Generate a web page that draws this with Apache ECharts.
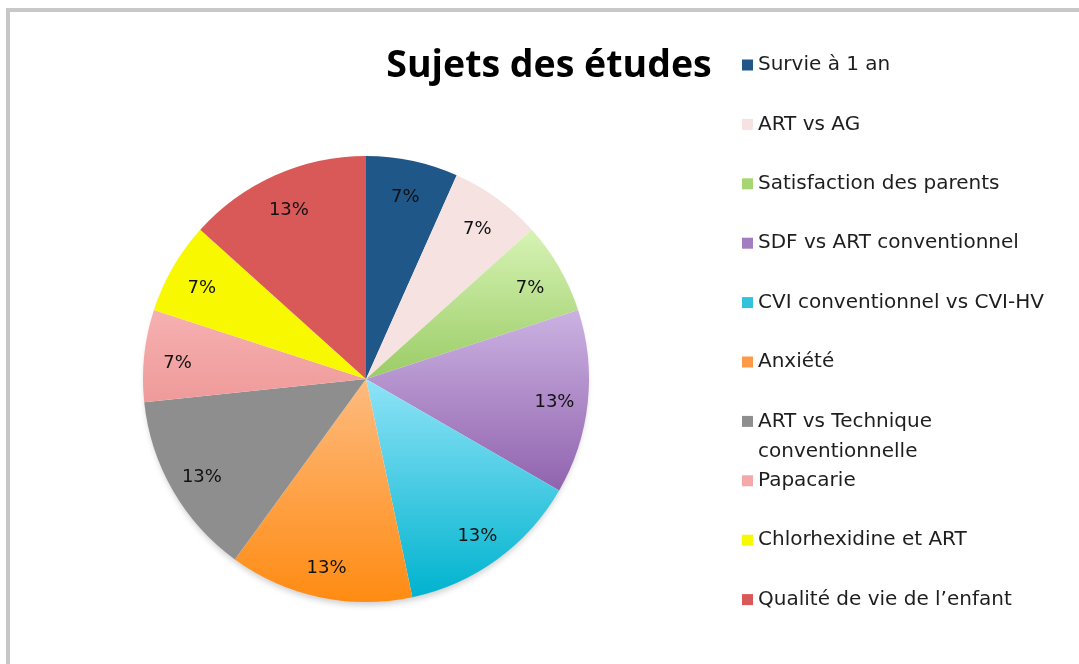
<!DOCTYPE html>
<html>
<head>
<meta charset="utf-8">
<script src="https://cdn.jsdelivr.net/npm/echarts@6/dist/echarts.min.js"></script>
<style>
  html, body { margin: 0; padding: 0; background: #fff; }
  #chart { width: 1079px; height: 664px; }
</style>
</head>
<body>
<div id="chart"></div>
<script>
// slice names, in the order they are drawn (clockwise from 12 o'clock)
var subjects = [
    'Survie à 1 an',
    'ART vs AG',
    'Satisfaction des parents',
    'SDF vs ART conventionnel',
    'CVI conventionnel vs CVI-HV',
    'Anxiété',
    'ART vs Technique\nconventionnelle',
    'Papacarie',
    'Chlorhexidine et ART',
    'Qualité de vie de l\u2019enfant'
];
// number of studies per subject (gives 7% / 13%)
var studies = [1, 1, 1, 2, 2, 2, 2, 1, 1, 2];

// top and bottom colour of every slice (vertical gradient)
var topColors = ['#1f5789', '#f5e2e1', '#d6f3b4', '#cbb2e2', '#8fe3f7', '#fdbb80', '#8e8e8e', '#f6b0b0', '#f8f800', '#d95858'];
var bottomColors = ['#1f5789', '#f5e2e1', '#9bcc66', '#9163ae', '#00b3cf', '#ff8b12', '#8e8e8e', '#ef9a9a', '#f8f800', '#d95858'];
var legendColors = ['#1f5789', '#f5e2e1', '#a6d672', '#a47cc0', '#33c2dc', '#fd9a48', '#8e8e8e', '#f4a8a8', '#f8f800', '#d95858'];

var chart = echarts.init(document.getElementById('chart'));

var legendLeft = 737;
var legendFont = { fontFamily: 'DejaVu Sans', fontSize: 20, lineHeight: 22, color: '#1e1e1e' };
var rowTop = function (i) { return 49 + i * 59.4; };

var pieData = subjects.map(function (name, i) {
    return {
        name: name,
        value: studies[i],
        itemStyle: {
            color: new echarts.graphic.LinearGradient(0, 0, 0, 1, [
                { offset: 0, color: topColors[i] },
                { offset: 1, color: bottomColors[i] }
            ])
        }
    };
});

// one legend per entry so that every row keeps the same spacing,
// a wrapped name only shows its first line here
var legends = subjects.map(function (name, i) {
    return {
        orient: 'vertical',
        left: legendLeft,
        top: rowTop(i),
        itemWidth: 11,
        itemHeight: 11,
        icon: 'rect',
        selectedMode: false,
        textStyle: legendFont,
        formatter: function (n) { return n.split('\n')[0]; },
        data: [{ name: name, itemStyle: { color: legendColors[i] } }]
    };
});

// second lines of the wrapped legend names, 30px under the first line
var extraLines = [];
subjects.forEach(function (name, i) {
    var parts = name.split('\n');
    for (var k = 1; k < parts.length; k++) {
        extraLines.push({
            type: 'text',
            x: legendLeft + 5 + 11 + 5,
            y: rowTop(i) + 5 + 11 + k * 30,
            silent: true,
            style: {
                text: parts[k],
                fontFamily: legendFont.fontFamily,
                fontSize: legendFont.fontSize,
                fill: legendFont.color,
                verticalAlign: 'middle'
            }
        });
    }
});

var option = {
    animation: false,
    title: {
        text: 'Sujets des études',
        left: 544,
        textAlign: 'center',
        top: 42,
        textStyle: {
            fontFamily: 'Open Sans',
            fontWeight: 'bold',
            fontSize: 37.5,
            color: '#000'
        }
    },
    legend: legends,
    graphic: [{
        type: 'rect',
        shape: { x: 8, y: 10, width: 1200, height: 800 },
        style: { fill: 'none', stroke: '#c8c8c8', lineWidth: 4 },
        silent: true
    }].concat(extraLines),
    series: [{
        // plain disc under the slices, only for the soft shadow
        type: 'pie',
        center: [366, 380],
        radius: [0, 221],
        silent: true,
        label: { show: false },
        labelLine: { show: false },
        itemStyle: { color: '#fff', shadowColor: 'rgba(0,0,0,0.2)', shadowBlur: 6, shadowOffsetY: 4 },
        data: [{ name: '', value: 1 }]
    }, {
        type: 'pie',
        center: [366, 379],
        radius: [0, 223],
        startAngle: 90,
        clockwise: true,
        label: { show: false },
        labelLine: { show: false },
        emphasis: { disabled: true },
        data: pieData
    }, {
        // transparent ring that only carries the percentage labels
        type: 'pie',
        center: [366, 383],
        radius: [150, 223],
        startAngle: 90,
        clockwise: true,
        silent: true,
        itemStyle: { color: 'rgba(0,0,0,0)' },
        label: {
            show: true,
            position: 'inside',
            fontFamily: 'DejaVu Sans',
            fontSize: 18,
            color: '#111',
            formatter: function (p) { return Math.round(p.percent) + '%'; }
        },
        labelLine: { show: false },
        emphasis: { disabled: true },
        data: subjects.map(function (name, i) {
            return { name: name, value: studies[i] };
        })
    }]
};

chart.setOption(option);
</script>
</body>
</html>
